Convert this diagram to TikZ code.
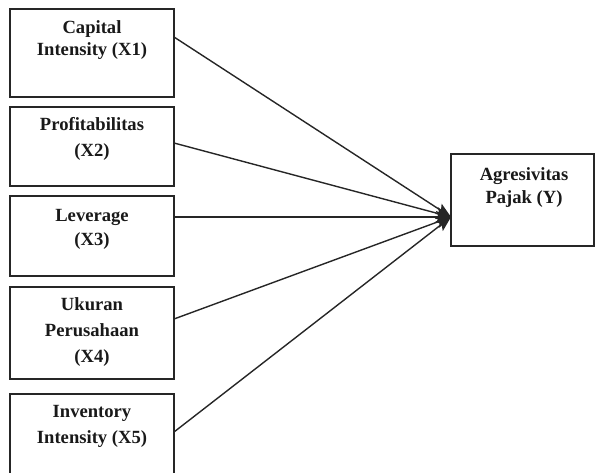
\documentclass[tikz,border=0pt]{standalone}
\usepackage{fontspec}
\setmainfont{Liberation Serif}
\usetikzlibrary{arrows.meta}
\begin{document}
\begin{tikzpicture}[x=1pt,y=-1pt,
  box/.style={draw=black!85, line width=1.5pt, inner sep=0pt, minimum width=164pt},
  lbl/.style={anchor=base, align=center, inner sep=0pt, text=black!90},
  conn/.style={line width=1.4pt, draw=black!85, -{Stealth[length=15pt,width=12pt,inset=3pt]}}]
\useasboundingbox (0,0) rectangle (596,473);
% boxes
\node[box, minimum height=88pt] (b1) at (92,53) {};
\node[box, minimum height=79pt] (b2) at (92,146.5) {};
\node[box, minimum height=80pt] (b3) at (92,236) {};
\node[box, minimum height=92pt] (b4) at (92,333) {};
\node[box, minimum height=86pt] (b5) at (92,437) {};
\node[box, minimum width=143pt, minimum height=92pt] (y) at (522.5,200) {};
% labels (base = baseline of last line)
\node[lbl, font=\fontsize{18.6}{22}\selectfont\bfseries] (t1) at (92,56) {Capital\\Intensity (X1)};
\node[lbl, font=\fontsize{18.6}{26}\selectfont\bfseries] (t2) at (92,157) {Profitabilitas\\(X2)};
\node[lbl, font=\fontsize{18.6}{24}\selectfont\bfseries] (t3) at (92,245) {Leverage\\(X3)};
\node[lbl, font=\fontsize{18.6}{26}\selectfont\bfseries] (t4) at (92,362) {Ukuran\\Perusahaan\\(X4)};
\node[lbl, font=\fontsize{18.6}{26}\selectfont\bfseries] (t5) at (92,443) {Inventory\\Intensity (X5)};
\node[lbl, font=\fontsize{18.6}{23}\selectfont\bfseries] (ty) at (524,203) {Agresivitas\\Pajak (Y)};
% connector ends
\coordinate (s1) at (174,37);
\coordinate (s2) at (174,143);
\coordinate (s3) at (174,217);
\coordinate (s4) at (174,319);
\coordinate (s5) at (174,432);
\coordinate (tip) at (451,217);
\draw[conn] (s1) -- (tip);
\draw[conn] (s2) -- (tip);
\draw[conn] (s3) -- (tip);
\draw[conn] (s4) -- (tip);
\draw[conn] (s5) -- (tip);
\end{tikzpicture}
\end{document}
